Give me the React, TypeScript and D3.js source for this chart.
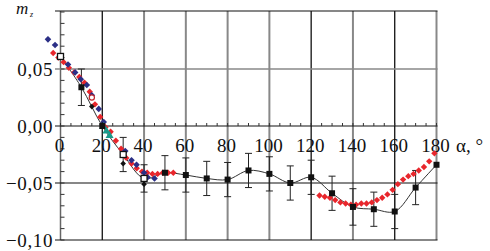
import * as d3 from 'd3';

// angle of attack (deg) and m_z for each series
const sqAlpha = [0, 10, 20, 30, 40, 50, 60, 70, 80, 90, 100, 110, 120, 130, 140, 150, 160, 170, 180];
const sqM = [0.061, 0.034, 0.0, -0.025, -0.046, -0.041, -0.043, -0.046, -0.047, -0.039, -0.042, -0.05, -0.045, -0.059, -0.071, -0.073, -0.075, -0.054, -0.034];
const sqErr = [0, 0.016, 0, 0.015, 0.012, 0.015, 0.015, 0.015, 0.015, 0.015, 0.015, 0.015, 0.015, 0.015, 0.016, 0.015, 0.015, 0.015, 0];
const sqOpen = [0, 30, 40];

const redAlpha = [-3.5, -1, 1.5, 4, 6.5, 9, 11.5, 14, 16.5, 19, 21.5, 24, 26.5, 29, 31.5, 34, 36.5, 39, 41.5, 44, 46.5, 49, 51.5, 54,
  124, 126.5, 129, 131.5, 134, 136.5, 139, 141.5, 144, 146.5, 149, 151.5, 154, 156.5, 159, 161.5, 164, 166.5, 169, 171.5, 174, 176.5, 179];
const redM = [0.064, 0.06, 0.056, 0.051, 0.047, 0.043, 0.038, 0.03, 0.019, 0.008, -0.001, -0.005, -0.013, -0.02, -0.028, -0.033, -0.037, -0.04, -0.041, -0.042, -0.042, -0.041, -0.041, -0.041,
  -0.061, -0.062, -0.063, -0.065, -0.067, -0.068, -0.069, -0.069, -0.068, -0.068, -0.067, -0.065, -0.063, -0.06, -0.056, -0.051, -0.047, -0.044, -0.042, -0.039, -0.036, -0.031, -0.024];

const blueAlpha = [-6, -2.6, 3.6, 7, 9.7, 12.6, 15, 18.3, 20.7, 31, 34, 36.4, 40, 41.7, 45];
const blueM = [0.076, 0.071, 0.054, 0.047, 0.041, 0.036, 0.027, 0.015, 0.0035, -0.022, -0.03, -0.034, -0.041, -0.045, -0.046];

const blackDiaAlpha = [15, 20, 30, 40];
const blackDiaM = [0.017, 0.001, -0.033, -0.051];

const tealAlpha = [20.5, 22, 23.5];
const tealM = [0.0, -0.004, -0.008];

const circAlpha = [15];
const circM = [0.025];

const xTicks = [0, 20, 40, 60, 80, 100, 120, 140, 160, 180];
const yTicks = [0.05, 0, -0.05, -0.1];
const yLabels = ['0,05', '0,00', '\u22120,05', '\u22120,10'];

const W = 490;
const H = 251;
const FONT = "'Liberation Serif', 'Times New Roman', serif";

export default function App() {
  const x = d3.scaleLinear().domain([0, 180]).range([60.5, 436.5]);
  const y = d3.scaleLinear().domain([-0.1, 0.1]).range([240, 12]);

  const darkV = new Set([20, 120, 160]);
  const line = d3.line<number>()
    .x((_, i) => x(sqAlpha[i]))
    .y(d => y(d))
    .curve(d3.curveCatmullRom.alpha(0.5));

  const diamond = (cx: number, cy: number, r: number) =>
    `M${cx},${cy - r}L${cx + r},${cy}L${cx},${cy + r}L${cx - r},${cy}Z`;

  const minorY = d3.range(-10, 11).map(v => v / 100);
  const minorX = d3.range(0, 181, 5);
  const txt = { fontFamily: FONT, fontSize: 19, fill: '#111' };

  return (
    <div style={{ position: 'absolute', left: 0, top: 0 }}>
      <svg width={W} height={H} style={{ display: 'block', background: '#fff' }}>
        {/* vertical grid */}
        {xTicks.slice(1).map(t => (
          <line key={'vg' + t} x1={x(t)} x2={x(t)} y1={y(0.1) - 1} y2={y(-0.1)}
            stroke={darkV.has(t) ? '#111' : '#888'} strokeWidth={darkV.has(t) ? 1.3 : 2} />
        ))}
        {/* left axis */}
        <line x1={x(0)} x2={x(0)} y1={y(0.1) - 1} y2={y(-0.1)} stroke="#666" strokeWidth={1.5} />
        {/* horizontal grid */}
        <line x1={55} x2={x(180) + 1} y1={y(0.1) - 1} y2={y(0.1) - 1} stroke="#111" strokeWidth={1.2} />
        <line x1={55} x2={x(180) + 1} y1={y(0.05)} y2={y(0.05)} stroke="#888" strokeWidth={1.5} />
        <line x1={55} x2={x(180) + 1} y1={y(0)} y2={y(0)} stroke="#111" strokeWidth={1.2} />
        <line x1={55} x2={x(180) + 1} y1={y(-0.05)} y2={y(-0.05)} stroke="#111" strokeWidth={1.2} />
        <line x1={55} x2={x(180) + 1} y1={y(-0.1)} y2={y(-0.1)} stroke="#111" strokeWidth={1.2} />
        {/* minor ticks */}
        {minorY.map(v => (
          <line key={'my' + v} x1={x(0)} x2={x(0) + 4} y1={y(v)} y2={y(v)} stroke="#333" strokeWidth={1} />
        ))}
        {minorX.map(v => (
          <line key={'mx' + v} x1={x(v)} x2={x(v)} y1={y(0) - 3} y2={y(0)} stroke="#333" strokeWidth={1} />
        ))}

        {/* tick labels */}
        {xTicks.map(t => (
          <text key={'xl' + t} x={x(t) - 1} y={152} textAnchor="middle" style={txt}>{t}</text>
        ))}
        <text x={456} y={152} style={txt}>α, °</text>
        {yTicks.map((t, i) => (
          <text key={'yl' + t} x={53} y={y(t) + 6.5} textAnchor="end" style={{ ...txt, letterSpacing: 0.6 }}>{yLabels[i]}</text>
        ))}
        <text x={16} y={14} style={{ ...txt, fontSize: 17, fontStyle: 'italic' }}>m</text>
        <text x={30} y={17} style={{ ...txt, fontSize: 8, fontStyle: 'italic' }}>z</text>

        {/* error bars */}
        {sqAlpha.map((a, i) => sqErr[i] > 0 ? (
          <g key={'eb' + a} stroke="#222" strokeWidth={1}>
            <line x1={x(a)} x2={x(a)} y1={y(sqM[i] + sqErr[i])} y2={y(sqM[i] - sqErr[i])} />
            <line x1={x(a) - 3.5} x2={x(a) + 3.5} y1={y(sqM[i] + sqErr[i])} y2={y(sqM[i] + sqErr[i])} />
            <line x1={x(a) - 3.5} x2={x(a) + 3.5} y1={y(sqM[i] - sqErr[i])} y2={y(sqM[i] - sqErr[i])} />
          </g>
        ) : null)}

        {/* fitted curve */}
        <path d={line(sqM) || ''} fill="none" stroke="#333" strokeWidth={1} />

        {/* red series */}
        {redAlpha.map((a, i) => (
          <path key={'r' + i} d={diamond(x(a), y(redM[i]), 3.2)} fill="#e8262c" />
        ))}
        {/* blue series */}
        {blueAlpha.map((a, i) => (
          <path key={'b' + i} d={diamond(x(a), y(blueM[i]), 3.3)} fill="#2b2f86" />
        ))}
        {/* teal triangles */}
        {tealAlpha.map((a, i) => {
          const cx = x(a);
          const cy = y(tealM[i]);
          return <path key={'t' + i} d={`M${cx},${cy - 4}L${cx + 4},${cy + 3}L${cx - 4},${cy + 3}Z`} fill="#17998a" />;
        })}
        {/* black diamonds */}
        {blackDiaAlpha.map((a, i) => (
          <path key={'k' + i} d={diamond(x(a), y(blackDiaM[i]), 2.8)} fill="#111" />
        ))}
        {/* open circles */}
        {circAlpha.map((a, i) => (
          <circle key={'c' + i} cx={x(a)} cy={y(circM[i])} r={2.6} fill="#fff" stroke="#c0262c" strokeWidth={1.2} />
        ))}
        {/* squares */}
        {sqAlpha.map((a, i) => {
          const open = sqOpen.includes(a);
          return (
            <rect key={'s' + a} x={x(a) - 3} y={y(sqM[i]) - 3} width={6} height={6}
              fill={open ? '#fff' : '#111'} stroke="#111" strokeWidth={open ? 1.3 : 0} />
          );
        })}
      </svg>
    </div>
  );
}
